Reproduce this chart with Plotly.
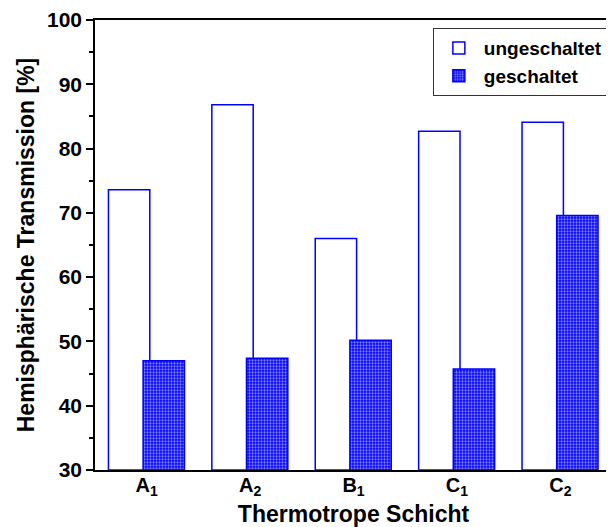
import plotly.graph_objects as go

categories = ["A<sub>1</sub>", "A<sub>2</sub>", "B<sub>1</sub>", "C<sub>1</sub>", "C<sub>2</sub>"]
ungeschaltet = [73.6, 86.8, 66.0, 82.7, 84.1]
geschaltet = [47.0, 47.4, 50.2, 45.7, 69.6]
y_ticks = [30, 40, 50, 60, 70, 80, 90, 100]
BASE = 30

BLUE = "#0000ff"
FONT = "Liberation Sans, Arial, sans-serif"

fig = go.Figure()
fig.add_trace(go.Bar(
    x=categories, y=[v - BASE for v in ungeschaltet], name="ungeschaltet",
    base=BASE, offset=-0.37, width=0.40,
    marker=dict(color="white", line=dict(color=BLUE, width=1.5)),
))
fig.add_trace(go.Bar(
    x=categories, y=[v - BASE for v in geschaltet], name="geschaltet",
    base=BASE, offset=-0.035, width=0.40,
    marker=dict(color=BLUE, line=dict(color=BLUE, width=1.5),
                pattern=dict(shape=".", fgcolor="white", bgcolor=BLUE,
                             size=3, solidity=0.45, fillmode="overlay")),
))

# page body has an 8px margin, so the figure is sized/positioned to compensate
fig.update_layout(
    width=606, height=519,
    margin=dict(l=87, r=2, t=12, b=57),
    plot_bgcolor="white", paper_bgcolor="white",
    barmode="overlay",
    font=dict(family=FONT, size=20, color="black", weight="bold"),
    legend=dict(x=0.992, y=0.982, xanchor="right", yanchor="top",
                bordercolor="#333333", borderwidth=1, bgcolor="white",
                font=dict(size=19, weight="bold"), tracegroupgap=0,
                itemwidth=40),
    showlegend=True,
)
fig.update_xaxes(
    type="category", range=[-0.5, 4.5], automargin=False,
    showline=True, linecolor="black", linewidth=1.5, mirror=True,
    ticks="", tickfont=dict(size=20, weight="bold"), ticklabelstandoff=-4,
    title=dict(text="Thermotrope Schicht", font=dict(size=23, weight="bold")),
    showgrid=False, zeroline=False,
)
fig.update_yaxes(
    range=[30, 100], tickvals=y_ticks, automargin=False,
    showline=True, linecolor="black", linewidth=1.5, mirror="ticks",
    ticks="outside", ticklen=7, tickwidth=1.5, tickcolor="black",
    minor=dict(ticks="outside", ticklen=4, dtick=5, tickwidth=1.5, tickcolor="black"),
    tickfont=dict(size=21, weight="bold"),
    title=dict(text="Hemisphärische Transmission [%]", font=dict(size=23, weight="bold"), standoff=6),
    showgrid=False, zeroline=False,
)

fig.write_html("out.html")
